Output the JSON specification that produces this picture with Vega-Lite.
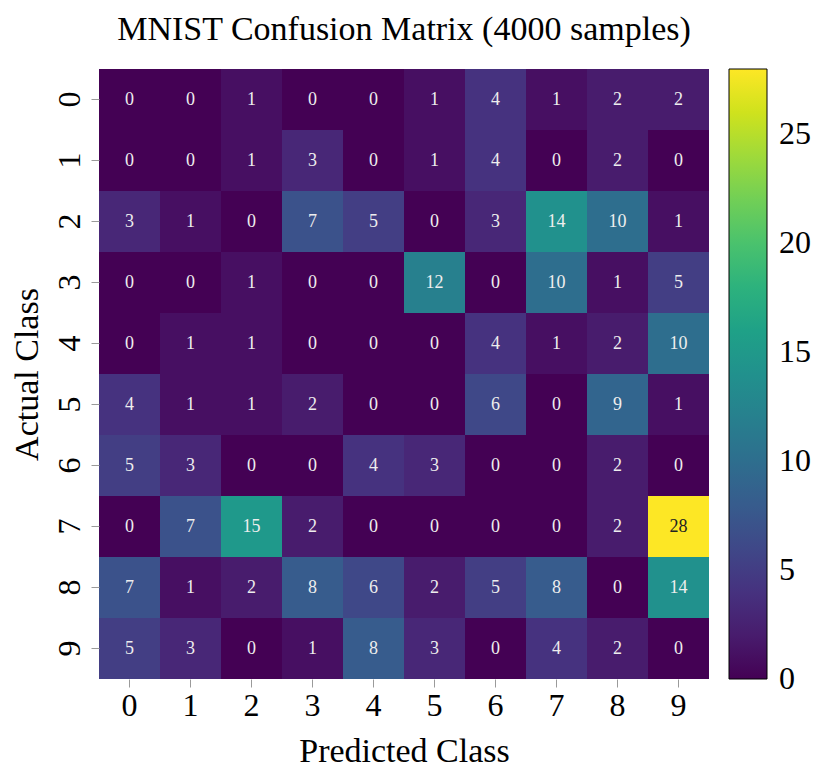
{
  "$schema": "https://vega.github.io/schema/vega-lite/v6.json",
  "autosize": {"type": "none"},
  "padding": {"left": 99, "top": 69, "right": 105, "bottom": 88},
  "width": 610,
  "height": 610,
  "background": "white",
  "title": {
    "text": "MNIST Confusion Matrix (4000 samples)",
    "font": "Liberation Serif",
    "fontSize": 34,
    "fontWeight": "normal",
    "color": "black",
    "anchor": "middle",
    "offset": 22
  },
  "config": {
    "view": {"stroke": null},
    "font": "Liberation Serif"
  },
  "data": {
    "values": [
      {"actual": 0, "predicted": 0, "count": 0}, {"actual": 0, "predicted": 1, "count": 0}, {"actual": 0, "predicted": 2, "count": 1}, {"actual": 0, "predicted": 3, "count": 0}, {"actual": 0, "predicted": 4, "count": 0}, {"actual": 0, "predicted": 5, "count": 1}, {"actual": 0, "predicted": 6, "count": 4}, {"actual": 0, "predicted": 7, "count": 1}, {"actual": 0, "predicted": 8, "count": 2}, {"actual": 0, "predicted": 9, "count": 2},
      {"actual": 1, "predicted": 0, "count": 0}, {"actual": 1, "predicted": 1, "count": 0}, {"actual": 1, "predicted": 2, "count": 1}, {"actual": 1, "predicted": 3, "count": 3}, {"actual": 1, "predicted": 4, "count": 0}, {"actual": 1, "predicted": 5, "count": 1}, {"actual": 1, "predicted": 6, "count": 4}, {"actual": 1, "predicted": 7, "count": 0}, {"actual": 1, "predicted": 8, "count": 2}, {"actual": 1, "predicted": 9, "count": 0},
      {"actual": 2, "predicted": 0, "count": 3}, {"actual": 2, "predicted": 1, "count": 1}, {"actual": 2, "predicted": 2, "count": 0}, {"actual": 2, "predicted": 3, "count": 7}, {"actual": 2, "predicted": 4, "count": 5}, {"actual": 2, "predicted": 5, "count": 0}, {"actual": 2, "predicted": 6, "count": 3}, {"actual": 2, "predicted": 7, "count": 14}, {"actual": 2, "predicted": 8, "count": 10}, {"actual": 2, "predicted": 9, "count": 1},
      {"actual": 3, "predicted": 0, "count": 0}, {"actual": 3, "predicted": 1, "count": 0}, {"actual": 3, "predicted": 2, "count": 1}, {"actual": 3, "predicted": 3, "count": 0}, {"actual": 3, "predicted": 4, "count": 0}, {"actual": 3, "predicted": 5, "count": 12}, {"actual": 3, "predicted": 6, "count": 0}, {"actual": 3, "predicted": 7, "count": 10}, {"actual": 3, "predicted": 8, "count": 1}, {"actual": 3, "predicted": 9, "count": 5},
      {"actual": 4, "predicted": 0, "count": 0}, {"actual": 4, "predicted": 1, "count": 1}, {"actual": 4, "predicted": 2, "count": 1}, {"actual": 4, "predicted": 3, "count": 0}, {"actual": 4, "predicted": 4, "count": 0}, {"actual": 4, "predicted": 5, "count": 0}, {"actual": 4, "predicted": 6, "count": 4}, {"actual": 4, "predicted": 7, "count": 1}, {"actual": 4, "predicted": 8, "count": 2}, {"actual": 4, "predicted": 9, "count": 10},
      {"actual": 5, "predicted": 0, "count": 4}, {"actual": 5, "predicted": 1, "count": 1}, {"actual": 5, "predicted": 2, "count": 1}, {"actual": 5, "predicted": 3, "count": 2}, {"actual": 5, "predicted": 4, "count": 0}, {"actual": 5, "predicted": 5, "count": 0}, {"actual": 5, "predicted": 6, "count": 6}, {"actual": 5, "predicted": 7, "count": 0}, {"actual": 5, "predicted": 8, "count": 9}, {"actual": 5, "predicted": 9, "count": 1},
      {"actual": 6, "predicted": 0, "count": 5}, {"actual": 6, "predicted": 1, "count": 3}, {"actual": 6, "predicted": 2, "count": 0}, {"actual": 6, "predicted": 3, "count": 0}, {"actual": 6, "predicted": 4, "count": 4}, {"actual": 6, "predicted": 5, "count": 3}, {"actual": 6, "predicted": 6, "count": 0}, {"actual": 6, "predicted": 7, "count": 0}, {"actual": 6, "predicted": 8, "count": 2}, {"actual": 6, "predicted": 9, "count": 0},
      {"actual": 7, "predicted": 0, "count": 0}, {"actual": 7, "predicted": 1, "count": 7}, {"actual": 7, "predicted": 2, "count": 15}, {"actual": 7, "predicted": 3, "count": 2}, {"actual": 7, "predicted": 4, "count": 0}, {"actual": 7, "predicted": 5, "count": 0}, {"actual": 7, "predicted": 6, "count": 0}, {"actual": 7, "predicted": 7, "count": 0}, {"actual": 7, "predicted": 8, "count": 2}, {"actual": 7, "predicted": 9, "count": 28},
      {"actual": 8, "predicted": 0, "count": 7}, {"actual": 8, "predicted": 1, "count": 1}, {"actual": 8, "predicted": 2, "count": 2}, {"actual": 8, "predicted": 3, "count": 8}, {"actual": 8, "predicted": 4, "count": 6}, {"actual": 8, "predicted": 5, "count": 2}, {"actual": 8, "predicted": 6, "count": 5}, {"actual": 8, "predicted": 7, "count": 8}, {"actual": 8, "predicted": 8, "count": 0}, {"actual": 8, "predicted": 9, "count": 14},
      {"actual": 9, "predicted": 0, "count": 5}, {"actual": 9, "predicted": 1, "count": 3}, {"actual": 9, "predicted": 2, "count": 0}, {"actual": 9, "predicted": 3, "count": 1}, {"actual": 9, "predicted": 4, "count": 8}, {"actual": 9, "predicted": 5, "count": 3}, {"actual": 9, "predicted": 6, "count": 0}, {"actual": 9, "predicted": 7, "count": 4}, {"actual": 9, "predicted": 8, "count": 2}, {"actual": 9, "predicted": 9, "count": 0}
    ]
  },
  "encoding": {
    "x": {
      "field": "predicted",
      "type": "ordinal",
      "scale": {"paddingInner": 0, "paddingOuter": 0},
      "axis": {
        "title": "Predicted Class",
        "titleFont": "Liberation Serif",
        "titleFontSize": 34,
        "titleFontWeight": "normal",
        "titleColor": "black",
        "titlePadding": 13,
        "labelFont": "Liberation Serif",
        "labelFontSize": 32,
        "labelColor": "black",
        "labelAngle": 0,
        "labelPadding": 3,
        "domain": false,
        "ticks": true,
        "tickSize": 8,
        "tickColor": "#9a9a9a",
        "tickWidth": 1
      }
    },
    "y": {
      "field": "actual",
      "type": "ordinal",
      "scale": {"paddingInner": 0, "paddingOuter": 0},
      "axis": {
        "title": "Actual Class",
        "titleFont": "Liberation Serif",
        "titleFontSize": 34,
        "titleFontWeight": "normal",
        "titleColor": "black",
        "titlePadding": 9,
        "labelFont": "Liberation Serif",
        "labelFontSize": 32,
        "labelColor": "black",
        "labelAngle": -90,
        "labelAlign": "center",
        "labelBaseline": "bottom",
        "labelPadding": 5,
        "domain": false,
        "ticks": true,
        "tickSize": 8,
        "tickColor": "#9a9a9a",
        "tickWidth": 1
      }
    }
  },
  "layer": [
    {
      "mark": {"type": "rect"},
      "encoding": {
        "color": {
          "field": "count",
          "type": "quantitative",
          "scale": {"scheme": "viridis", "domain": [0, 28]},
          "legend": {
            "title": null,
            "orient": "right",
            "offset": 20,
            "padding": 0,
            "direction": "vertical",
            "gradientLength": 610,
            "gradientThickness": 38,
            "gradientStrokeColor": "black",
            "gradientStrokeWidth": 1,
            "values": [0, 5, 10, 15, 20, 25],
            "labelFont": "Liberation Serif",
            "labelFontSize": 32,
            "labelColor": "black",
            "labelOffset": 12,
            "encode": {
              "labels": {"update": {"baseline": {"value": "middle"}}}
            }
          }
        }
      }
    },
    {
      "mark": {"type": "text", "font": "Liberation Serif", "fontSize": 18},
      "encoding": {
        "text": {"field": "count", "type": "quantitative"},
        "color": {
          "condition": {"test": "datum.count > 20", "value": "#222222"},
          "value": "#eeeeee"
        }
      }
    }
  ]
}
